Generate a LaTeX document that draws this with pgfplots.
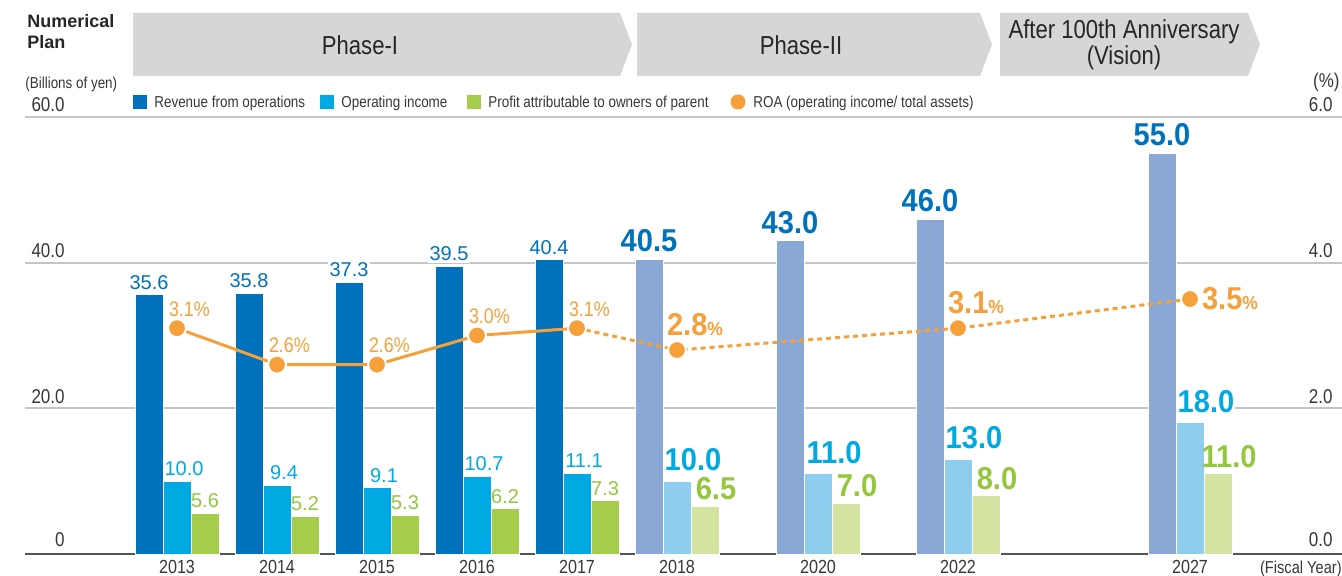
\documentclass[border=0pt]{standalone}
\usepackage{fontspec}
\setmainfont{Liberation Sans}
\newfontfamily\cond{Liberation Sans}[FakeStretch=0.85]
\newfontfamily\bcond{Liberation Sans}[FakeStretch=0.92]
\usepackage{pgfplots}
\pgfplotsset{compat=1.18}
\definecolor{revdark}{RGB}{0,114,188}
\definecolor{opdark}{RGB}{0,169,226}
\definecolor{profdark}{RGB}{165,204,75}
\definecolor{revlight}{RGB}{138,168,214}
\definecolor{oplight}{RGB}{143,205,239}
\definecolor{proflight}{RGB}{211,227,160}
\definecolor{roa}{RGB}{246,160,58}
\definecolor{proftext}{RGB}{148,198,62}
\definecolor{gridgray}{RGB}{196,197,201}
\definecolor{axisgray}{RGB}{85,85,85}
\definecolor{tickgray}{RGB}{55,55,55}
\definecolor{banner}{RGB}{213,214,216}
\newcommand{\fs}[1]{\fontsize{#1}{#1}\selectfont}
\pgfplotsset{base/.style={scale only axis, width=658.5pt, height=218.5pt,
  xmin=-1.52, xmax=11.65, clip=false, at={(0pt,0pt)}, anchor=south west,
  /pgf/number format/fixed, /pgf/number format/fixed zerofill,
  /pgf/number format/precision=1, /pgf/number format/assume math mode=true}}
\tikzset{ltick/.style={anchor=base east, font=\cond\fs{10}, text=tickgray, inner sep=0pt, yshift=2.5pt},
  rtick/.style={anchor=base east, font=\cond\fs{10}, text=tickgray, inner sep=0pt, xshift=-4.5pt, yshift=2.5pt}}
\begin{document}
\begin{tikzpicture}
\useasboundingbox (-12.5pt,-11pt) rectangle (658.5pt,277pt);
\begin{axis}[base, ymin=0, ymax=60,
  axis line style={draw=none}, major tick length=0pt,
  ytick={20,40,60}, yticklabels={}, ymajorgrids,
  grid style={color=gridgray, line width=1pt},
  extra y ticks={0}, extra y tick labels={},
  extra y tick style={grid style={color=axisgray, line width=0.9pt}},
  xtick={0,1,2,3,4,5,6.41,7.81,10.13},
  xticklabels={2013,2014,2015,2016,2017,2018,2020,2022,2027},
  xticklabel style={font=\cond\fs{9.5}, text=tickgray, anchor=base, yshift=-10pt, inner sep=0pt},
  bar width=14pt]
% Revenue from operations (results)
\addplot[ybar, bar shift=-14pt, fill=revdark, draw=white, line width=0.4pt,
  nodes near coords, every node near coord/.append style={font=\fs{10}, text=revdark,
  fill=white, inner sep=1pt, anchor=south, xshift=-14pt, yshift=1.5pt}]
  coordinates {(0,35.6)(1,35.8)(2,37.3)(3,39.5)(4,40.4)};
% Revenue from operations (plan)
\addplot[ybar, bar shift=-14pt, fill=revlight, draw=white, line width=0.4pt,
  nodes near coords, every node near coord/.append style={font=\bcond\bfseries\fs{15.8}, text=revdark,
  fill=white, inner sep=1pt, anchor=south, xshift=-14pt, yshift=2.5pt}]
  coordinates {(5,40.5)(6.41,43.0)(7.81,46.0)(10.13,55.0)};
% Operating income (results)
\addplot[ybar, bar shift=0pt, fill=opdark, draw=white, line width=0.4pt,
  nodes near coords, every node near coord/.append style={font=\fs{10}, text=opdark,
  inner sep=1pt, anchor=south, xshift=3.5pt, yshift=1.5pt}]
  coordinates {(0,10.0)(1,9.4)(2,9.1)(3,10.7)(4,11.1)};
% Operating income (plan)
\addplot[ybar, bar shift=0pt, fill=oplight, draw=white, line width=0.4pt,
  nodes near coords, every node near coord/.append style={font=\bcond\bfseries\fs{15.8}, text=opdark,
  fill=white, inner sep=0.5pt, anchor=south, xshift=8pt, yshift=4.5pt}]
  coordinates {(5,10.0)(6.41,11.0)(7.81,13.0)(10.13,18.0)};
% Profit attributable to owners of parent (results)
\addplot[ybar, bar shift=14pt, fill=profdark, draw=white, line width=0.4pt,
  nodes near coords, every node near coord/.append style={font=\fs{10}, text=proftext,
  inner sep=1pt, anchor=south, xshift=14pt, yshift=1.5pt}]
  coordinates {(0,5.6)(1,5.2)(2,5.3)(3,6.2)(4,7.3)};
% Profit attributable to owners of parent (plan)
\addplot[ybar, bar shift=14pt, fill=proflight, draw=white, line width=0.4pt,
  nodes near coords, every node near coord/.append style={font=\bcond\bfseries\fs{15.8}, text=proftext,
  inner sep=0.5pt, anchor=south, xshift=19.5pt, yshift=2.5pt}]
  coordinates {(5,6.5)(6.41,7.0)(7.81,8.0)(10.13,11.0)};
% tick labels
\node[ltick] at (axis cs:-1.12,60) {60.0};
\node[ltick] at (axis cs:-1.12,40) {40.0};
\node[ltick] at (axis cs:-1.12,20) {20.0};
\node[ltick, yshift=1pt] at (axis cs:-1.12,0) {0};
\node[rtick] at (axis cs:11.65,60) {6.0};
\node[rtick] at (axis cs:11.65,40) {4.0};
\node[rtick] at (axis cs:11.65,20) {2.0};
\node[rtick, yshift=1pt] at (axis cs:11.65,0) {0.0};
\node[rtick, xshift=3.5pt, yshift=12pt] at (axis cs:11.65,60) {(\%)};
\node[anchor=base east, font=\cond\fs{8.6}, text=tickgray, inner sep=0pt, yshift=-10pt] at (axis cs:11.65,0) {(Fiscal Year)};
\end{axis}
\begin{axis}[base, ymin=0, ymax=6, hide axis]
\addplot[color=roa, line width=1.5pt] coordinates {(0,3.1)(1,2.6)(2,2.6)(3,3.0)(4,3.1)};
\addplot[color=roa, line width=1.5pt, dash pattern=on 2.5pt off 2pt]
  coordinates {(4,3.1)(5,2.8)(7.81,3.1)(10.13,3.5)};
\addplot[only marks, mark=*, mark size=4.5pt, mark options={fill=roa, draw=white, line width=1pt},
  nodes near coords={\pgfmathprintnumber{\pgfplotspointmeta}\%},
  every node near coord/.append style={font=\cond\fs{10.5}, text=roa, anchor=base west,
  xshift=-4.5pt, yshift=6pt, inner sep=0pt}]
  coordinates {(0,3.1)(1,2.6)(2,2.6)(3,3.0)(4,3.1)};
\addplot[only marks, mark=*, mark size=4.5pt, mark options={fill=roa, draw=white, line width=1pt},
  nodes near coords={\pgfmathprintnumber{\pgfplotspointmeta}{\fs{9.5}\%}},
  every node near coord/.append style={font=\bcond\bfseries\fs{15.8}, text=roa, anchor=base west,
  xshift=-5.5pt, yshift=7.5pt, inner sep=0pt}]
  coordinates {(5,2.8)(7.81,3.1)};
\addplot[only marks, mark=*, mark size=4.5pt, mark options={fill=roa, draw=white, line width=1pt},
  nodes near coords={\pgfmathprintnumber{\pgfplotspointmeta}{\fs{9.5}\%}},
  every node near coord/.append style={font=\bcond\bfseries\fs{15.8}, text=roa, anchor=base west,
  xshift=5.5pt, yshift=-5pt, inner sep=0pt}]
  coordinates {(10.13,3.5)};
\end{axis}
\begin{scope}[x=0.5pt, y=-0.5pt, shift={(-12.5pt,277pt)}]
\fill[banner] (133,13) -- (620,13) -- (632,44.5) -- (620,76) -- (133,76) -- cycle;
\fill[banner] (637,13) -- (980,13) -- (992,44.5) -- (980,76) -- (637,76) -- cycle;
\fill[banner] (1000,13) -- (1248,13) -- (1260,44.5) -- (1248,76) -- (1000,76) -- cycle;
\node[font=\cond\fs{13}, text=black!85, inner sep=0pt] at (360,45) {Phase-I};
\node[font=\cond\fs{13}, text=black!85, inner sep=0pt] at (801,45) {Phase-II};
\node[font=\cond\fs{13}, text=black!85, inner sep=0pt, align=center] at (1124,45) {After 100th Anniversary\\(Vision)};
\node[anchor=base west, font=\bfseries\fs{9}, text=black!85, inner sep=0pt] at (27,28) {Numerical};
\node[anchor=base west, font=\bfseries\fs{9}, text=black!85, inner sep=0pt] at (27,49) {Plan};
\node[anchor=base west, font=\cond\fs{7.9}, text=tickgray, inner sep=0pt] at (25,89) {(Billions of yen)};
\fill[revdark] (133,95) rectangle (147,109);
\node[anchor=base west, font=\cond\fs{7.9}, text=tickgray, inner sep=0pt] at (154,107.5) {Revenue from operations};
\fill[opdark] (320,95) rectangle (334,109);
\node[anchor=base west, font=\cond\fs{7.9}, text=tickgray, inner sep=0pt] at (341,107.5) {Operating income};
\fill[profdark] (467,95) rectangle (481,109);
\node[anchor=base west, font=\cond\fs{7.9}, text=tickgray, inner sep=0pt] at (488,107.5) {Profit attributable to owners of parent};
\fill[roa] (738,102) circle (7.5);
\node[anchor=base west, font=\cond\fs{7.9}, text=tickgray, inner sep=0pt] at (753,107.5) {ROA (operating income/ total assets)};
\end{scope}
\end{tikzpicture}
\end{document}
